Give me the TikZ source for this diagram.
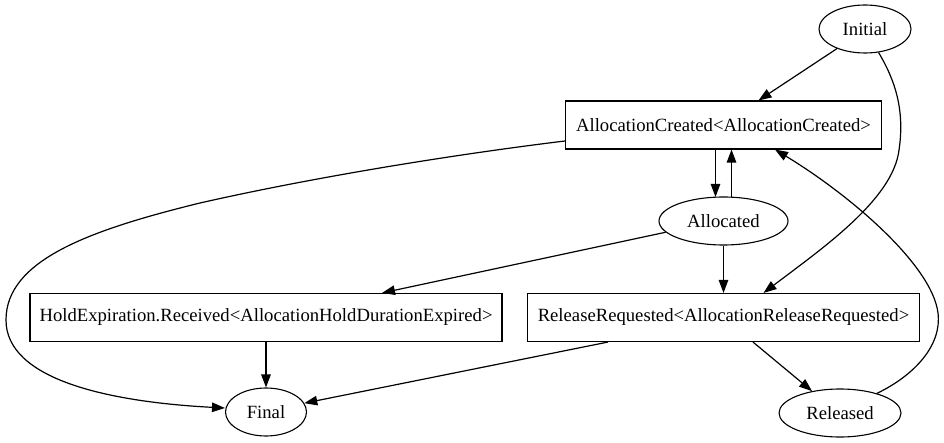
\documentclass[tikz,border=0pt]{standalone}
\usepackage{fontspec}
\setmainfont{Liberation Serif}
\usetikzlibrary{shapes.geometric,arrows.meta}
\begin{document}
\begin{tikzpicture}[x=1pt,y=-1pt,
  every node/.style={font=\fontsize{18.67}{22}\selectfont, inner sep=0pt, line width=1.1pt},
  stbox/.style={draw, rectangle, minimum height=48pt},
  stell/.style={draw, ellipse, minimum height=48pt},
  edge/.style={line width=1.2pt, -{Triangle[length=13pt,width=9.5pt]}}]
\fill[white] (0,0) rectangle (944,443);
\useasboundingbox (0,0) rectangle (944,443);
\node[stell, minimum width=92pt] (Init) at (865,29) {Initial};
\node[stbox, minimum width=316pt] (AC) at (723.5,125) {AllocationCreated<AllocationCreated>};
\node[stell, minimum width=129pt] (Alc) at (723.5,221) {Allocated};
\node[stbox, minimum width=472pt] (HE) at (266,317.5) {HoldExpiration.Received<AllocationHoldDurationExpired>};
\node[stbox, minimum width=392pt] (RR) at (723.5,317.5) {ReleaseRequested<AllocationReleaseRequested>};
\node[stell, minimum width=81pt] (Fin) at (266,412) {Final};
\node[stell, minimum width=122pt] (Rel) at (840,413) {Released};
% edges
\draw[edge] (Init.215) -- ([xshift=35pt]AC.north);
\draw[edge] (Init.300) .. controls (895,80) and (905,110) .. (899,150)
  .. controls (893,200) and (820,250) .. ([xshift=40pt]RR.north);
\draw[edge] ([yshift=-16pt]AC.west) .. controls (450,155) and (310,178) .. (200,203)
  .. controls (90,230) and (6,260) .. (6,320)
  .. controls (6,380) and (110,402) .. ([yshift=4pt]Fin.west);
\draw[edge] ([xshift=-8pt]AC.south) -- ([xshift=-8pt,yshift=-0.5pt]Alc.north);
\draw[edge] ([xshift=8pt,yshift=-0.5pt]Alc.north) -- ([xshift=8pt]AC.south);
\draw[edge] (Alc.191) -- ([xshift=116pt]HE.north);
\draw[edge] (Alc.south) -- (RR.north);
\draw[edge] (HE.south) -- (Fin.north);
\draw[edge] ([xshift=-115.5pt]RR.south) -- (Fin.13);
\draw[edge] ([xshift=29.5pt]RR.south) -- (Rel.142);
\draw[edge] (Rel.28) .. controls (915,375) and (942,345) .. (938,313)
  .. controls (932,265) and (850,195) .. ([xshift=51.5pt]AC.south);
\end{tikzpicture}
\end{document}
